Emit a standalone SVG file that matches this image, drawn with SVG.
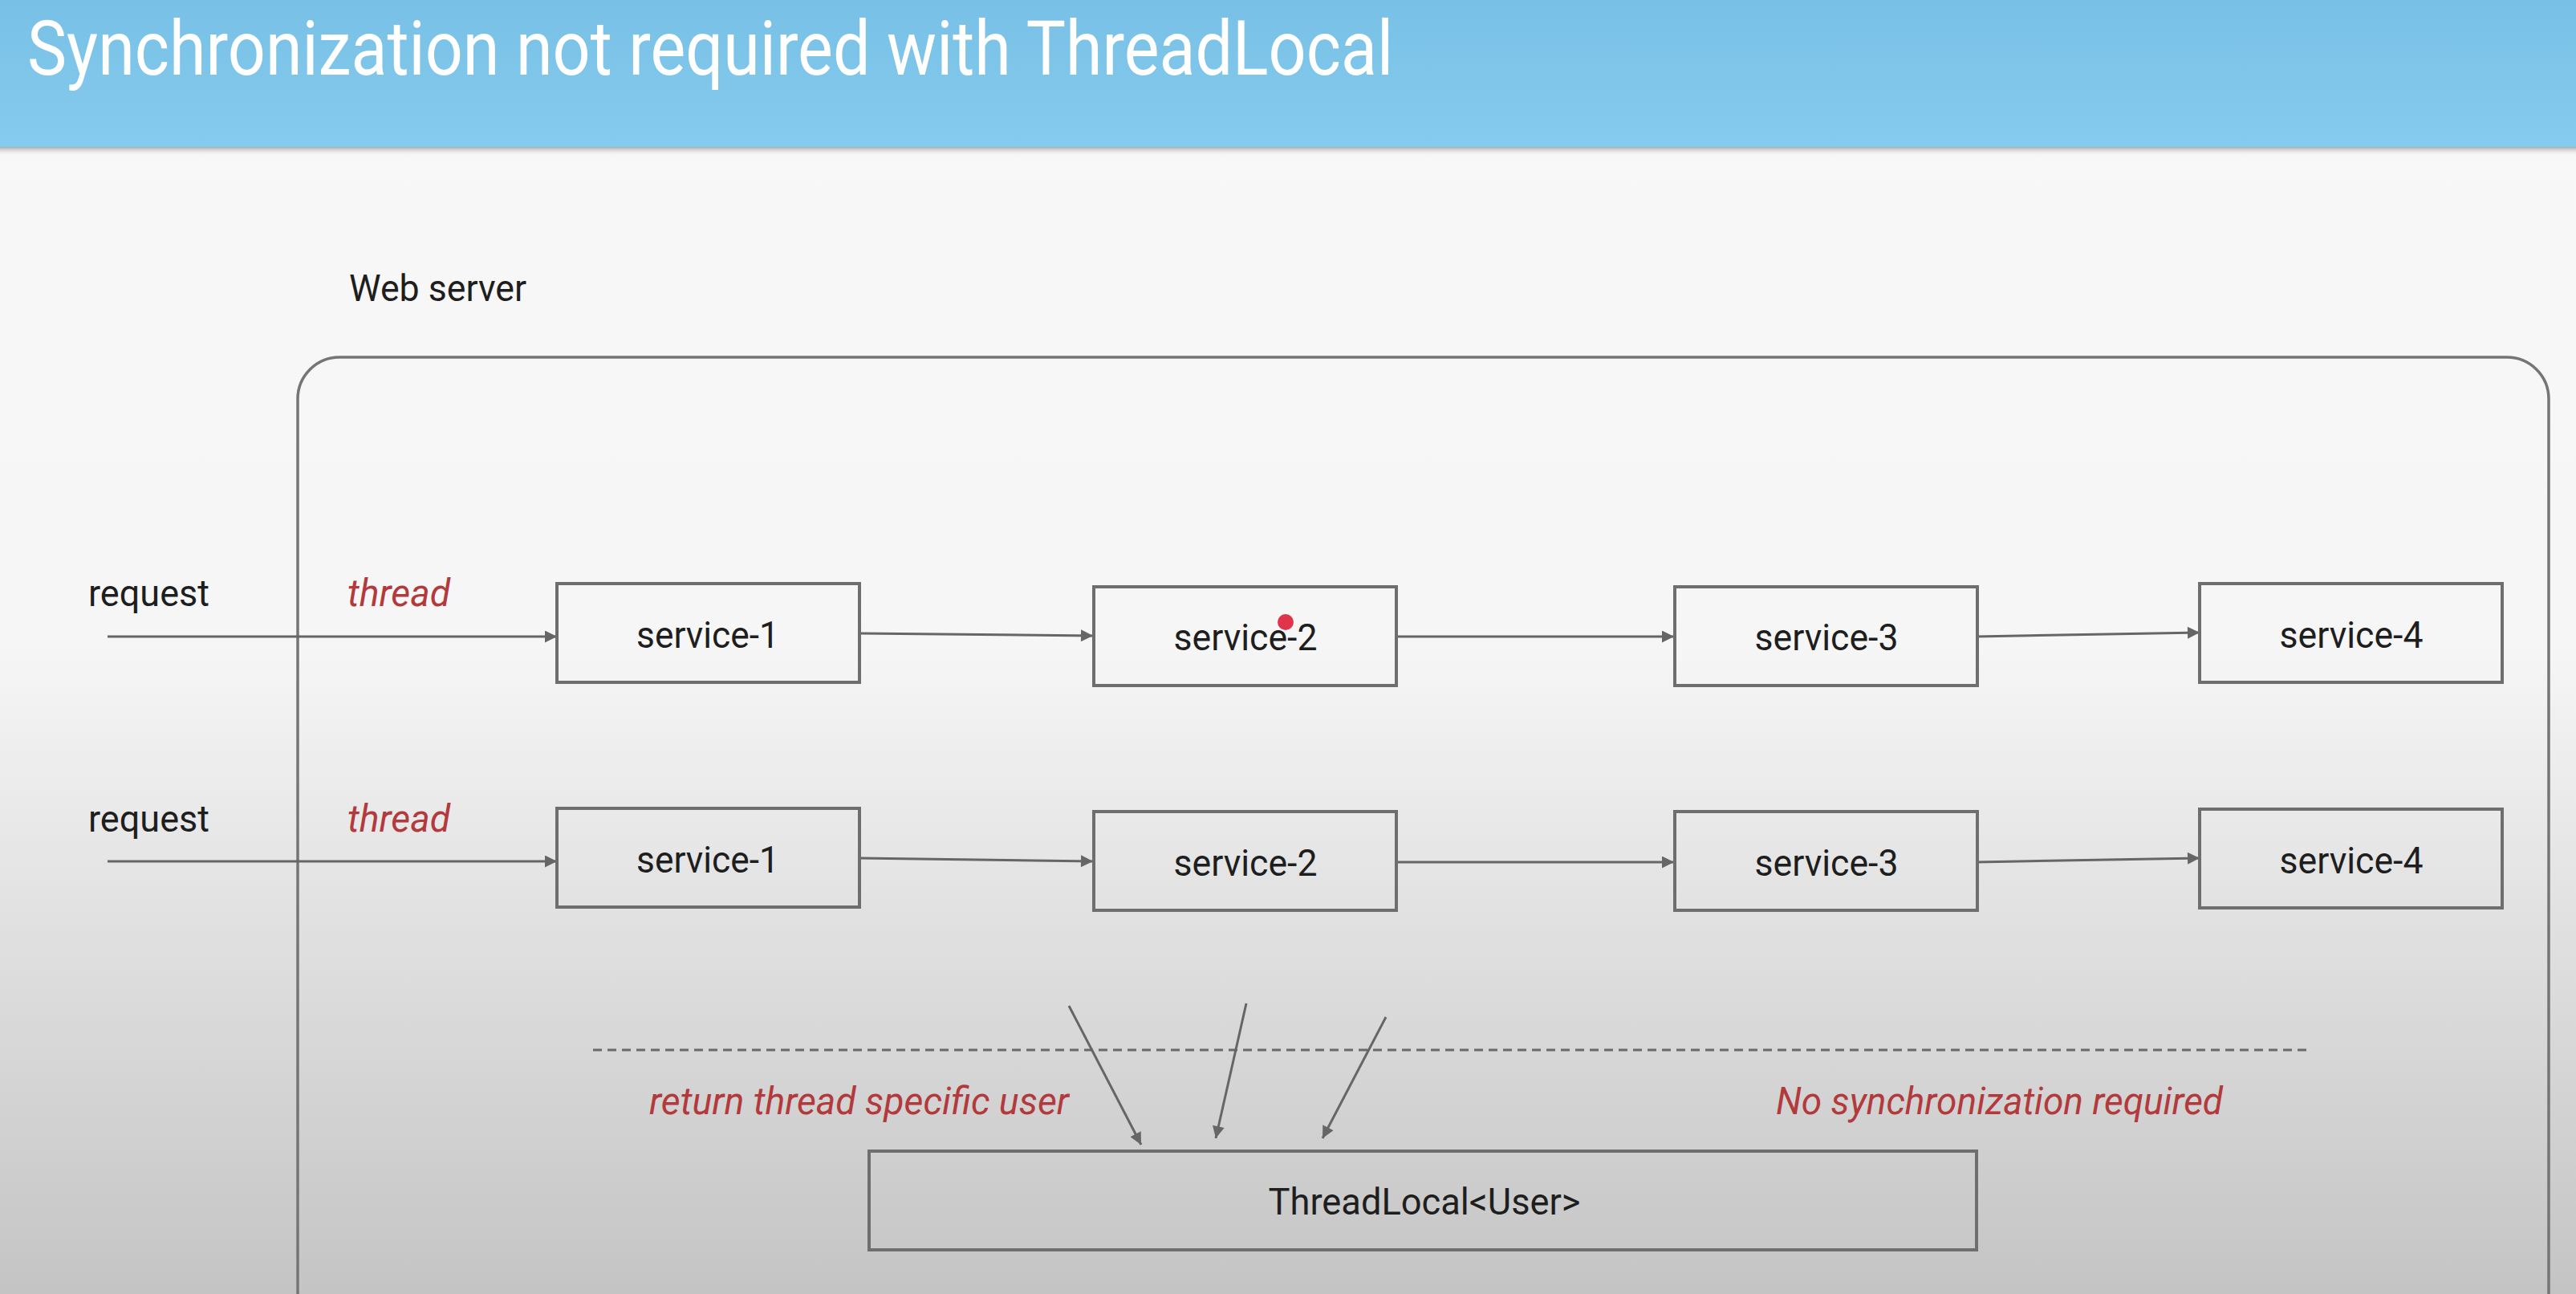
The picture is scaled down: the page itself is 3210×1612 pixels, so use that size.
<svg xmlns="http://www.w3.org/2000/svg" width="3210" height="1612" viewBox="0 0 3210 1612">
  <style>
    .box { fill: none; stroke: #6e6e6e; stroke-width: 4; }
    .lbl { font-family: Roboto, "Liberation Sans", sans-serif; font-size: 47px; fill: #1e1e1e; }
    .svc { font-family: Roboto, "Liberation Sans", sans-serif; font-size: 46px; fill: #1e1e1e; text-anchor: middle; }
    .red { font-family: Roboto, "Liberation Sans", sans-serif; font-size: 48px; font-style: italic; fill: #b23a3c; }
    .conn { stroke: #666; stroke-width: 3; fill: none; marker-end: url(#arr); }
  </style>
  <defs>
    <linearGradient id="bg" x1="0" y1="0" x2="0" y2="1">
      <stop offset="0" stop-color="#f8f8f9"/>
      <stop offset="0.5" stop-color="#f6f6f7"/>
      <stop offset="1" stop-color="#c4c4c4"/>
    </linearGradient>
    <linearGradient id="bar" x1="0" y1="0" x2="0" y2="1">
      <stop offset="0" stop-color="#79c0e6"/>
      <stop offset="1" stop-color="#85cbef"/>
    </linearGradient>
    <linearGradient id="shadow" x1="0" y1="0" x2="0" y2="1">
      <stop offset="0" stop-color="#9a9a9a"/>
      <stop offset="1" stop-color="#f4f4f4" stop-opacity="0"/>
    </linearGradient>
    <marker id="arr" viewBox="0 0 10 10" refX="10" refY="5" markerWidth="7" markerHeight="5" markerUnits="strokeWidth" orient="auto">
      <path d="M0,0 L10,5 L0,10 z" fill="#666"/>
    </marker>
  </defs>

  <rect x="0" y="0" width="3210" height="1612" fill="url(#bg)"/>

  <g id="title-bar">
    <rect x="0" y="182" width="3210" height="12" fill="url(#shadow)"/>
    <rect x="0" y="0" width="3210" height="183" fill="url(#bar)"/>
    <text x="34" y="93" font-family="Roboto, 'Liberation Sans', sans-serif" font-size="94" fill="#ffffff" textLength="1702" lengthAdjust="spacingAndGlyphs">Synchronization not required with ThreadLocal</text>
  </g>

  <g id="web-server">
    <rect x="371" y="445" width="2805" height="1300" rx="52" ry="52" fill="none" stroke="#757575" stroke-width="3.5"/>
    <text class="lbl" x="435" y="375" textLength="221" lengthAdjust="spacingAndGlyphs">Web server</text>
  </g>

  <g id="labels">
    <text class="lbl" x="110" y="755" textLength="151" lengthAdjust="spacingAndGlyphs">request</text>
    <text class="lbl" x="110" y="1036" textLength="151" lengthAdjust="spacingAndGlyphs">request</text>
    <text class="red" x="433" y="755" textLength="128" lengthAdjust="spacingAndGlyphs">thread</text>
    <text class="red" x="433" y="1036" textLength="128" lengthAdjust="spacingAndGlyphs">thread</text>
    <text class="red" x="809" y="1388" textLength="523" lengthAdjust="spacingAndGlyphs">return thread specific user</text>
    <text class="red" x="2213" y="1388" textLength="557" lengthAdjust="spacingAndGlyphs">No synchronization required</text>
  </g>

  <g id="connectors">
    <line class="conn" x1="134" y1="793" x2="694" y2="793"/>
    <line class="conn" x1="1071" y1="789" x2="1362" y2="792"/>
    <line class="conn" x1="1740" y1="793" x2="2086" y2="793"/>
    <line class="conn" x1="2463" y1="793" x2="2741" y2="788"/>
    <line class="conn" x1="134" y1="1073" x2="694" y2="1073"/>
    <line class="conn" x1="1071" y1="1069" x2="1362" y2="1073"/>
    <line class="conn" x1="1740" y1="1074" x2="2086" y2="1074"/>
    <line class="conn" x1="2463" y1="1074" x2="2741" y2="1069"/>
    <line x1="739" y1="1308" x2="2876" y2="1308" stroke="#6a6a6a" stroke-width="3" stroke-dasharray="11 7"/>
    <line class="conn" x1="1332" y1="1253" x2="1422" y2="1426"/>
    <line class="conn" x1="1553" y1="1250" x2="1515" y2="1418"/>
    <line class="conn" x1="1727" y1="1267" x2="1648" y2="1418"/>
  </g>

  <g id="r1-service-1">
    <rect class="box" x="694" y="727" width="377" height="123"/>
    <text class="svc" x="882" y="807" textLength="178" lengthAdjust="spacingAndGlyphs">service-1</text>
  </g>
  <g id="r1-service-2">
    <rect class="box" x="1363" y="731" width="377" height="123"/>
    <text class="svc" x="1552" y="810" textLength="179" lengthAdjust="spacingAndGlyphs">service-2</text>
    <circle cx="1602" cy="775" r="10" fill="#e0344a"/>
  </g>
  <g id="r1-service-3">
    <rect class="box" x="2087" y="731" width="377" height="123"/>
    <text class="svc" x="2276" y="810" textLength="179" lengthAdjust="spacingAndGlyphs">service-3</text>
  </g>
  <g id="r1-service-4">
    <rect class="box" x="2741" y="727" width="377" height="123"/>
    <text class="svc" x="2930" y="807" textLength="179" lengthAdjust="spacingAndGlyphs">service-4</text>
  </g>

  <g id="r2-service-1">
    <rect class="box" x="694" y="1007" width="377" height="123"/>
    <text class="svc" x="882" y="1087" textLength="178" lengthAdjust="spacingAndGlyphs">service-1</text>
  </g>
  <g id="r2-service-2">
    <rect class="box" x="1363" y="1011" width="377" height="123"/>
    <text class="svc" x="1552" y="1091" textLength="179" lengthAdjust="spacingAndGlyphs">service-2</text>
  </g>
  <g id="r2-service-3">
    <rect class="box" x="2087" y="1011" width="377" height="123"/>
    <text class="svc" x="2276" y="1091" textLength="179" lengthAdjust="spacingAndGlyphs">service-3</text>
  </g>
  <g id="r2-service-4">
    <rect class="box" x="2741" y="1008" width="377" height="123"/>
    <text class="svc" x="2930" y="1088" textLength="179" lengthAdjust="spacingAndGlyphs">service-4</text>
  </g>

  <g id="threadlocal">
    <rect class="box" x="1083" y="1434" width="1380" height="123"/>
    <text class="svc" x="1775" y="1513" textLength="389" lengthAdjust="spacingAndGlyphs">ThreadLocal&lt;User&gt;</text>
  </g>
</svg>
